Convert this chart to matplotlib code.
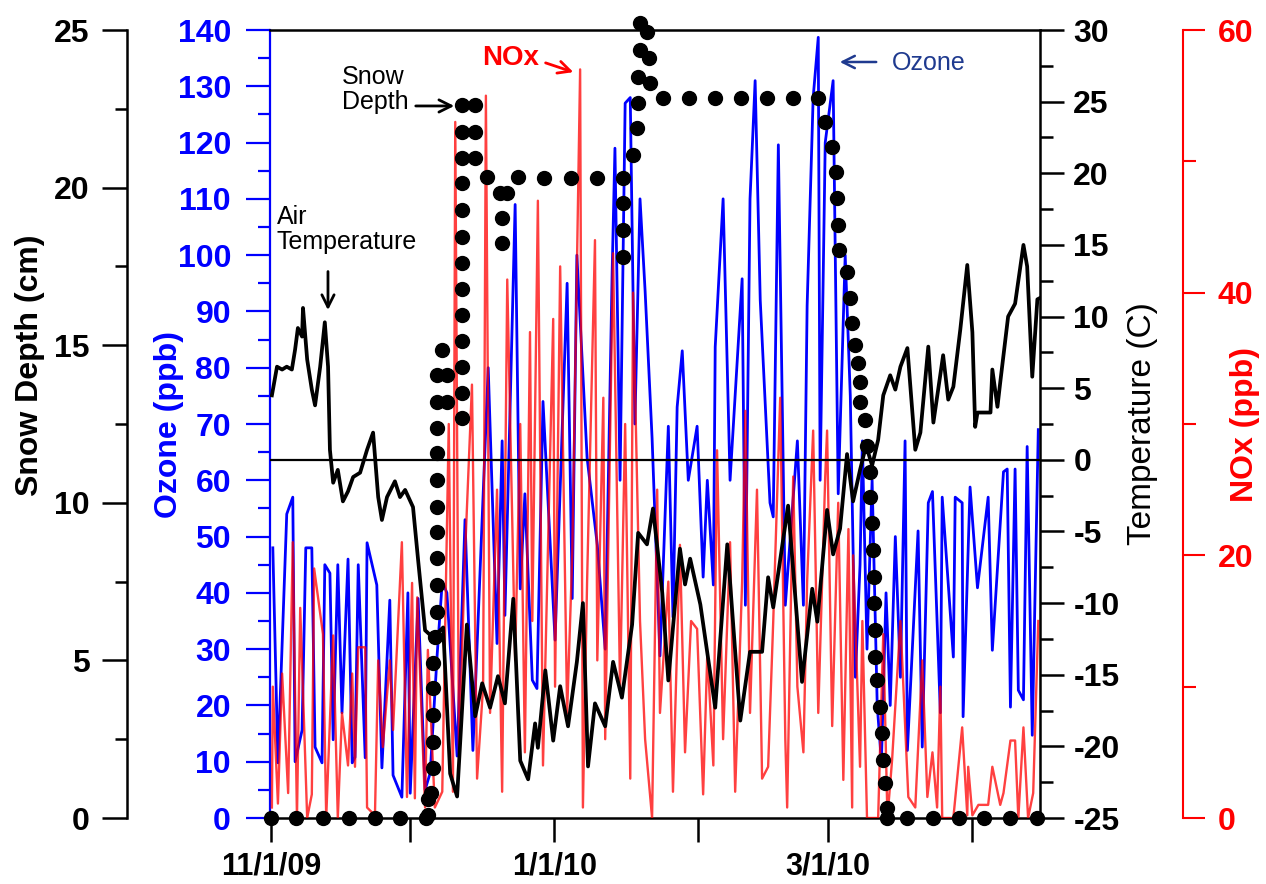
import numpy as np
import matplotlib
matplotlib.use("Agg")
import matplotlib.pyplot as plt
from matplotlib.ticker import MultipleLocator

plt.rcParams['font.family'] = ['Liberation Sans', 'DejaVu Sans']
plt.rcParams['axes.unicode_minus'] = False

# days since 11/1/09
start = np.datetime64('2009-11-01T00:00')

oz_day = [0.4, 1.5, 3.4, 4.7, 5.2, 6.7, 7.5, 8.8, 9.5, 11.0, 11.6, 12.7, 13.4, 14.4, 15.3, 16.6,
          17.5, 18.1, 18.8, 20.3, 20.7, 22.8, 23.9, 25.6, 26.3, 28.2, 29.5, 30.0, 31.7, 33.2,
          34.3, 35.8, 36.9, 37.9, 40.1, 41.8, 43.5, 45.7, 46.8, 48.7, 49.8, 50.4, 52.6, 53.7,
          54.7, 56.3, 57.3, 58.6, 61.2, 63.8, 64.9, 65.9, 68.1, 70.3, 72.0, 73.5, 74.1, 75.2,
          76.3, 77.4, 78.4, 79.5, 80.6, 82.1, 83.8, 85.6, 86.6, 87.5, 88.6, 89.9, 91.8, 93.1,
          94.0, 95.3, 95.7, 97.4, 98.9, 101.5, 102.2, 103.2, 104.3, 105.4, 107.5, 108.2, 109.3,
          110.8, 113.4, 114.7, 115.5, 116.8, 117.9, 118.3, 119.4, 121.1, 122.2, 123.7, 124.8,
          125.9, 126.9, 127.4, 128.4, 129.5, 130.6, 131.5, 132.5, 133.4, 134.5, 135.6, 136.6,
          137.1, 139.4, 140.3, 141.6, 142.5, 144.2, 144.6, 147.0, 147.4, 148.9, 149.1, 150.6,
          152.2, 154.5, 155.4, 157.8, 158.6, 159.3, 160.3, 161.0, 162.1, 162.9, 164.0, 165.3]
oz_ppb = [48, 9.8, 54, 57, 10, 15.6, 48, 48, 12.6, 9.8, 45, 43.5, 13.9, 45, 18.7, 46,
          9.8, 10.8, 45, 10.7, 48.9, 41.4, 8.9, 38.7, 7.6, 3.7, 40, 4.4, 39, 5,
          8, 29, 42, 40, 11, 53, 12, 57.6, 80, 31, 67, 36, 109, 40.7,
          57.6, 24.5, 23, 74, 31.6, 95, 39, 100, 64, 48.5, 30, 97, 119, 60,
          127, 128, 70, 110, 93.6, 67.5, 28.8, 69.6, 35.7, 73, 83, 60, 69.6, 42.8,
          60, 41.4, 83.7, 110, 60, 95.8, 37.8, 110, 131, 92, 56, 53.5, 119.6,
          37.8, 67, 37.8, 91, 128, 138.7, 60, 120, 131, 57.6, 100, 75,
          25, 45, 67, 30, 60, 20, 10, 40, 20, 50, 25, 67,
          12, 51, 12.6, 56, 58, 18.7, 57, 28.6, 57, 56, 18, 58.8,
          40.9, 57, 29.8, 61.5, 62, 19.7, 62, 22.7, 21, 66, 14.7, 69]

nox_day = [0.2, 0.4, 1.5, 2.4, 3.7, 4.7, 5.6, 6.3, 7.8, 8.8, 9.3, 11.2, 11.9, 13.4, 14.4, 15.3,
           16.6, 17.5, 18.1, 18.8, 20.3, 20.7, 22.4, 23.1, 24.1, 25.6, 26.3, 28.2, 29.3, 30.4,
           31.0, 31.5, 33.2, 33.8, 35.3, 36.9, 38.3, 39.2, 39.7, 40.5, 41.8, 43.3, 44.4, 45.7,
           46.3, 47.2, 48.7, 49.8, 50.9, 52.6, 53.7, 54.7, 55.8, 56.3, 57.5, 58.6, 60.8, 61.2,
           62.3, 63.8, 64.9, 66.6, 67.2, 68.1, 69.8, 70.3, 71.6, 72.0, 73.7, 75.2, 76.3, 77.4,
           78.0, 79.5, 80.6, 82.1, 83.2, 83.8, 85.6, 86.6, 88.1, 89.2, 90.5, 91.8, 93.1, 94.0,
           95.3, 96.1, 97.4, 98.9, 100.0, 101.5, 102.2, 103.2, 104.7, 105.8, 107.1, 108.2,
           109.7, 110.8, 111.2, 112.5, 113.4, 114.7, 115.5, 116.8, 117.9, 119.4, 119.8, 120.9,
           122.2, 123.3, 124.4, 125.2, 125.4, 126.9, 127.4, 128.4, 130.8, 131.9, 132.8, 133.8,
           135.6, 137.3, 138.8, 140.3, 141.4, 142.5, 143.5, 144.2, 144.6, 147.0, 148.9, 150.0,
           150.2, 151.1, 152.4, 154.5, 155.4, 157.1, 157.8, 159.3, 160.3, 161.0, 162.1, 163.1,
           164.2, 165.3]
nox_ppb = [0.8, 10, 1.1, 11, 1.9, 21, 0, 16, 0, 1.8, 19, 14, 0, 13.9, 0, 8,
           4, 11, 3.9, 13, 13, 0.8, 0.2, 12, 5.4, 12, 6.7, 21, 1.6, 17.9,
           1.5, 16.8, 0.8, 12.8, 0.8, 2, 30, 2, 53, 5, 20, 33, 3, 10,
           55, 8, 25, 2, 41, 12, 30, 5, 37, 15, 47, 4, 38, 10,
           42, 8, 20, 57, 0.8, 18, 44, 12, 32, 6, 43, 10, 30, 3,
           40, 15, 6, 0, 25, 8, 18, 2, 20.8, 5, 15, 14.4, 1.8, 12.6,
           4, 28, 6, 21, 2, 18, 31, 8, 25, 3, 3.9, 15,
           32, 6, 0.8, 26, 10, 5, 18, 29.5, 8, 26, 29.5, 7,
           24, 2.9, 22, 0.8, 20, 3.9, 15, 0, 0, 14, 0, 4.4,
           15, 1.6, 0.8, 12, 1.6, 5, 0.8, 10, 0, 0, 6.9, 0.2,
           3.9, 0.2, 1, 1, 3.9, 1, 1.9, 5.9, 5.9, 0, 6.9, 0,
           1.9, 15]

temp_day = [0.2, 1.3, 2.4, 3.4, 4.5, 5.2, 5.8, 6.7, 6.9, 7.8, 8.8, 9.5, 10.6, 11.6, 12.3, 12.7,
            13.4, 14.4, 15.5, 16.6, 17.7, 19.2, 20.7, 22.0, 23.1, 23.9, 25.0, 26.7, 27.8, 28.9,
            30.6, 31.7, 33.2, 34.9, 37.1, 38.6, 40.1, 42.2, 44.0, 45.5, 47.2, 48.9, 50.4, 52.2,
            53.7, 55.4, 56.9, 57.5, 59.1, 60.8, 62.3, 64.0, 65.9, 67.2, 68.3, 69.8, 72.0, 73.7,
            75.6, 77.8, 79.1, 81.0, 82.3, 84.3, 85.6, 88.1, 89.2, 90.3, 92.5, 95.7, 98.3, 101.1,
            103.2, 105.8, 107.1, 108.2, 111.4, 114.4, 116.6, 117.7, 119.8, 121.1, 122.6, 124.1,
            125.4, 126.9, 128.2, 129.5, 130.8, 131.9, 133.4, 134.5, 135.6, 137.1, 138.8, 139.9,
            141.6, 142.7, 144.8, 145.9, 147.0, 148.5, 150.0, 151.1, 151.7, 152.2, 155.0, 155.4,
            156.5, 157.1, 158.8, 160.3, 162.1, 162.9, 164.0, 165.1, 165.7]
temp_c = [4.5, 6.5, 6.3, 6.5, 6.3, 7.7, 9.2, 8.6, 10.6, 7.0, 4.9, 3.8, 6.5, 9.6, 6.5, 0.7,
          -1.6, -0.7, -2.9, -2.2, -1.2, -0.9, 0.7, 1.9, -2.6, -4.2, -2.6, -1.5, -2.6, -2.1,
          -3.3, -7.0, -11.9, -12.4, -11.7, -21.9, -23.5, -11.5, -17.9, -15.6, -17.3, -15.1, -17.0, -9.7,
          -21.0, -22.3, -18.4, -20.1, -14.7, -19.6, -15.8, -18.6, -14.1, -10.0, -21.4, -17.0, -18.6, -14.1,
          -16.6, -11.5, -5.1, -5.9, -3.4, -9.3, -15.4, -6.2, -8.7, -6.9, -10.1, -17.3, -5.9, -18.2,
          -13.4, -13.4, -8.2, -10.3, -3.2, -15.5, -9.0, -11.3, -3.5, -6.6, -4.8, 0.4,
          -2.9, -0.7, 1.0, -0.4, 1.4, 4.5, 5.9, 4.9, 6.5, 7.8, 0.7, 1.9,
          7.9, 2.6, 7.3, 4.2, 5.1, 9.1, 13.6, 8.9, 2.3, 3.3, 3.3, 6.3,
          3.7, 5.4, 10.0, 10.9, 15.0, 13.5, 5.8, 11.2, 11.3]

snow_day = [0, 5.4, 11.2, 16.8, 22.4, 27.8, 33.4,
            33.8, 33.8, 34.4, 34.9, 34.9, 34.9, 34.9, 34.9, 35.4,
            35.8, 35.8, 35.8, 35.8, 35.8, 35.8, 35.8, 35.8,
            35.8, 37.9, 35.8, 37.9, 36.9,
            41.2, 41.2, 41.2, 41.2, 41.2, 41.2, 41.2, 41.2, 41.2, 41.2, 41.2, 41.2, 41.2,
            44.0, 44.0, 44.0,
            46.6, 49.4, 50.9, 49.8, 49.8, 53.2, 58.8, 64.7, 70.3,
            75.9, 75.9, 75.9, 75.9,
            78.0, 78.9, 79.1, 79.1, 81.7, 79.5, 81.5, 79.5, 81.0,
            84.5, 90.1, 95.7, 101.3, 106.9, 112.5, 117.9,
            119.4, 120.9, 121.8, 122.0, 122.2, 122.4, 124.1, 124.8, 125.2, 125.9, 126.5, 126.9,
            126.9, 128.0, 128.5, 129.1, 129.1, 129.5, 129.7, 130.0, 130.0, 130.2, 130.2, 130.6,
            131.3, 131.7, 131.9, 132.3, 132.8, 132.8,
            137.1, 142.7, 148.3, 153.7, 159.3, 165.1]
snow_cm = [0, 0, 0, 0, 0, 0, 0,
           0.1, 0.6, 0.79, 1.59, 2.41, 3.27, 4.12, 4.92, 5.74,
           6.54, 7.39, 8.25, 9.07, 9.87, 10.72, 11.58, 12.37,
           13.2, 13.2, 14.05, 14.05, 14.85,
           12.69, 13.48, 14.31, 15.13, 15.96, 16.78, 17.61, 18.43, 19.29, 20.15, 20.94, 21.76, 22.62,
           20.94, 21.76, 22.62,
           20.34, 19.83, 19.83, 19.04, 18.24, 20.34, 20.3, 20.3, 20.3,
           20.3, 19.51, 18.65, 17.8,
           21.03, 21.89, 22.68, 23.51, 23.32, 24.37, 24.11, 25.22, 24.94,
           22.84, 22.84, 22.84, 22.84, 22.84, 22.84, 22.84,
           22.08, 21.29, 20.49, 19.67, 18.81, 18.02, 17.32, 16.5, 15.7, 15.01, 14.44, 13.83,
           13.2, 12.63, 11.8, 10.98, 10.18, 9.36, 8.5, 7.65, 6.82, 5.96, 5.11, 4.38,
           3.52, 2.7, 1.84, 1.11, 0.32, 0,
           0, 0, 0, 0, 0, 0]

month_ticks = ['2009-11-01', '2009-12-01', '2010-01-01', '2010-02-01', '2010-03-01', '2010-04-01']
month_labels = ['11/1/09', '', '1/1/10', '', '3/1/10', '']


def to_dates(days):
    return start + (np.array(days) * 86400).astype('timedelta64[s]')


BLUE = '#0000FF'
RED = '#FF0000'
NAVY = '#1F3A8F'

fig = plt.figure(figsize=(12.66, 8.84), dpi=100)
ax = fig.add_axes([270 / 1266, 1 - 818 / 884, 770 / 1266, 788 / 884])
ax_n = ax.twinx()
ax_t = ax.twinx()
ax_s = ax.twinx()

ax.plot(to_dates(oz_day), oz_ppb, color=BLUE, lw=2.0)
ax_n.plot(to_dates(nox_day), nox_ppb, color=RED, lw=1.7, alpha=0.75)
ax_t.plot(to_dates(temp_day), temp_c, color='black', lw=2.7)
ax_t.axhline(0, color='black', lw=1.6)
ax_s.plot(to_dates(snow_day), snow_cm, 'o', color='black', ms=10, clip_on=False)

ax.set_xlim(start - np.timedelta64(5, 'h'), start + np.timedelta64(int(165.7 * 24), 'h'))
ax.set_xticks([np.datetime64(m) for m in month_ticks])
ax.set_xticklabels(month_labels)
ax.tick_params(axis='x', length=17, width=1.8, pad=7, labelsize=22)
for lab in ax.get_xticklabels():
    lab.set_fontweight('bold')

# ozone (inner left)
ax.set_ylim(0, 140)
ax.yaxis.set_major_locator(MultipleLocator(10))
ax.yaxis.set_minor_locator(MultipleLocator(5))
ax.tick_params(axis='y', which='major', length=17, width=1.6, colors=BLUE, labelsize=23, pad=11)
ax.tick_params(axis='y', which='minor', length=9, width=1.6, colors=BLUE)
ax.spines['left'].set_color(BLUE)
ax.spines['left'].set_linewidth(1.6)
ax.spines['right'].set_visible(False)
for s in ['top', 'bottom']:
    ax.spines[s].set_linewidth(1.8)
ax.set_ylabel('Ozone (ppb)', color=BLUE, fontsize=23, fontweight='bold')
ax.yaxis.set_label_coords(-0.112, 0.5)

# temperature (inner right)
ax_t.set_ylim(-25, 30)
ax_t.yaxis.set_major_locator(MultipleLocator(5))
ax_t.yaxis.set_minor_locator(MultipleLocator(2.5))
ax_t.tick_params(axis='y', which='major', length=17, width=1.8, labelsize=23, pad=7)
ax_t.tick_params(axis='y', which='minor', length=9, width=1.8)
for s in ['left', 'top', 'bottom']:
    ax_t.spines[s].set_visible(False)
ax_t.spines['right'].set_linewidth(1.8)
ax_t.set_ylabel('Temperature (C)', fontsize=24)
ax_t.yaxis.set_label_coords(1.113, 0.5)

# NOx (outer right)
ax_n.set_ylim(0, 60)
ax_n.yaxis.set_major_locator(MultipleLocator(20))
ax_n.yaxis.set_minor_locator(MultipleLocator(10))
ax_n.spines['right'].set_position(('axes', (1183 - 270) / 770))
for s in ['left', 'top', 'bottom']:
    ax_n.spines[s].set_visible(False)
ax_n.spines['right'].set_color(RED)
ax_n.spines['right'].set_linewidth(1.5)
ax_n.tick_params(axis='y', which='major', length=16, width=1.5, colors=RED, labelsize=23, pad=9)
ax_n.tick_params(axis='y', which='minor', length=9, width=1.5, colors=RED)
ax_n.set_ylabel('NOx (ppb)', color=RED, fontsize=23, fontweight='bold')
ax_n.yaxis.set_label_coords(1.247, 0.5)

# snow depth (outer left)
ax_s.set_ylim(0, 25)
ax_s.yaxis.set_ticks_position('left')
ax_s.yaxis.set_label_position('left')
ax_s.spines['left'].set_position(('axes', (127 - 270) / 770))
ax_s.spines['left'].set_visible(True)
for s in ['right', 'top', 'bottom']:
    ax_s.spines[s].set_visible(False)
ax_s.spines['left'].set_linewidth(1.8)
ax_s.yaxis.set_major_locator(MultipleLocator(5))
ax_s.yaxis.set_minor_locator(MultipleLocator(2.5))
ax_s.tick_params(axis='y', which='major', length=18, width=1.8, labelsize=23, pad=9)
ax_s.tick_params(axis='y', which='minor', length=9, width=1.8)
ax_s.set_ylabel('Snow Depth (cm)', fontsize=23, fontweight='bold')
ax_s.yaxis.set_label_coords(-0.292, 0.575)

for a in (ax, ax_t, ax_n, ax_s):
    for lab in a.get_yticklabels():
        lab.set_fontweight('bold')

# annotations
arr = dict(arrowstyle='->', lw=2, color='black', mutation_scale=22)
ax_s.text(0.009, 0.778, 'Air\nTemperature', transform=ax.transAxes, fontsize=18,
          va='top', ha='left', linespacing=1.05)
ax_s.annotate('', xy=(0.0753, 0.641), xytext=(0.0753, 0.697), xycoords='axes fraction',
              arrowprops=arr)
ax_s.text(0.0935, 0.956, 'Snow\nDepth', transform=ax.transAxes, fontsize=18,
          va='top', ha='left', linespacing=1.05)
ax_s.annotate('', xy=(0.2429, 0.9036), xytext=(0.1857, 0.9036), xycoords='axes fraction',
              arrowprops=arr)
ax_s.text(0.2753, 0.964, 'NOx', transform=ax.transAxes, fontsize=20, fontweight='bold',
          color=RED, va='center', ha='left')
ax_s.annotate('', xy=(0.3974, 0.9454), xytext=(0.3545, 0.9594), xycoords='axes fraction',
              arrowprops=dict(arrowstyle='->', lw=2, color=RED, mutation_scale=22))
ax_s.text(0.8078, 0.958, 'Ozone', transform=ax.transAxes, fontsize=18,
          color=NAVY, va='center', ha='left')
ax_s.annotate('', xy=(0.7364, 0.9594), xytext=(0.7909, 0.9594), xycoords='axes fraction',
              arrowprops=dict(arrowstyle='->', lw=1.8, color=NAVY, mutation_scale=22))

fig.savefig('out.png', dpi=100)
